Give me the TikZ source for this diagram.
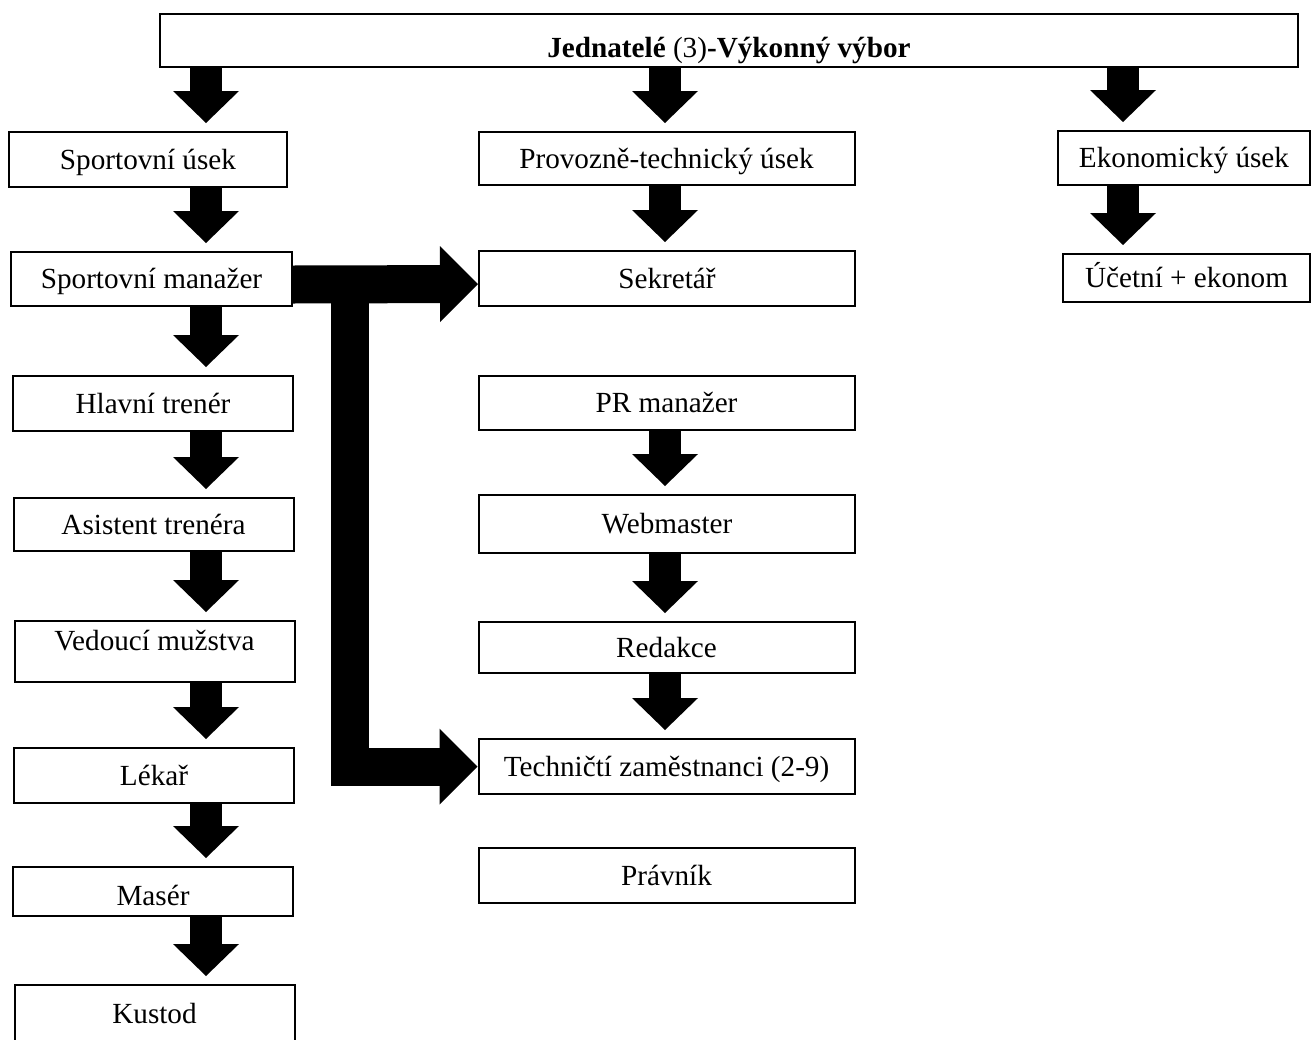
\documentclass[tikz,border=0pt]{standalone}
\usepackage{fontspec}
\setmainfont{Liberation Serif}
\usepackage{tikz}
\usetikzlibrary{positioning, arrows.meta}

\tikzset{
  unit/.style={draw, line width=1pt, inner sep=0pt, font=\fontsize{14.6}{17}\selectfont,
    text height=9.6pt, text depth=0pt, minimum height=27.5pt},
  leftunit/.style={unit, minimum width=140pt},
  midunit/.style={unit, minimum width=188pt},
  downarrow/.style={line width=16pt, -{Triangle[width=33pt,length=16pt,line width=0pt]}, shorten >=4pt},
  sidearrow/.style={line width=19pt, -{Triangle[width=38pt,length=19pt,line width=0pt]}}
}

\begin{document}
\begin{tikzpicture}[x=0.5pt,y=-0.5pt]
\useasboundingbox (0,0) rectangle (1312,1039);

% top
\node[unit, minimum width=569pt, minimum height=26.5pt, text height=16.6pt] at (729,40.5) (top)
  {\textbf{Jednatelé} (3)\textbf{-Výkonný výbor}};

% left column
\node[leftunit, minimum width=139pt] at (148,159.5) (sportUsek) {Sportovní úsek};
\node[leftunit, minimum width=140.5pt, minimum height=27pt] at (151.5,279) (sportMan) {Sportovní manažer};
\node[leftunit] at (153,403.5) (hlavni) {Hlavní trenér};
\node[leftunit, minimum height=26.5pt] at (153.5,524.5) (asist) {Asistent trenéra};
\node[leftunit, minimum height=30.5pt, text depth=11pt] at (154.5,651.5) (vedouci) {Vedoucí mužstva};
\node[leftunit] at (154,775.5) (lekar) {Lékař};
\node[leftunit, minimum height=24.5pt, text height=14.1pt] at (153,891.5) (maser) {Masér};
\node[leftunit, minimum height=28.5pt] at (154.5,1013.5) (kustod) {Kustod};

% middle column
\node[midunit, minimum height=26.5pt] at (666.5,158.5) (provozne) {Provozně-technický úsek};
\node[midunit] at (667,278.5) (sekretar) {Sekretář};
\node[midunit, minimum height=27pt] at (666.5,403) (pr) {PR manažer};
\node[midunit, minimum height=29pt] at (667,524) (webmaster) {Webmaster};
\node[midunit, minimum height=25.5pt] at (666.5,647.5) (redakce) {Redakce};
\node[midunit] at (666.5,766.5) (technicti) {Techničtí zaměstnanci (2-9)};
\node[midunit] at (666.5,875.5) (pravnik) {Právník};

% right column
\node[unit, minimum width=126pt, minimum height=27pt] at (1184,158) (ekonom) {Ekonomický úsek};
\node[unit, minimum width=123.5pt, minimum height=24pt] at (1186.5,278) (ucetni) {Účetní + ekonom};

% arrow columns
\coordinate (lx) at (206,0);
\coordinate (mx) at (665,0);
\coordinate (rx) at (1123,0);

\draw[downarrow] (top.south -| lx) -- (sportUsek.north -| lx);
\draw[downarrow] (sportUsek.south -| lx) -- (sportMan.north -| lx);
\draw[downarrow] (sportMan.south -| lx) -- (hlavni.north -| lx);
\draw[downarrow] (hlavni.south -| lx) -- (asist.north -| lx);
\draw[downarrow] (asist.south -| lx) -- (vedouci.north -| lx);
\draw[downarrow] (vedouci.south -| lx) -- (lekar.north -| lx);
\draw[downarrow] (lekar.south -| lx) -- (maser.north -| lx);
\draw[downarrow] (maser.south -| lx) -- (kustod.north -| lx);

\draw[downarrow] (top.south -| mx) -- (provozne.north -| mx);
\draw[downarrow] (provozne.south -| mx) -- (sekretar.north -| mx);
\draw[downarrow] (pr.south -| mx) -- (webmaster.north -| mx);
\draw[downarrow] (webmaster.south -| mx) -- (redakce.north -| mx);
\draw[downarrow] (redakce.south -| mx) -- (technicti.north -| mx);

\draw[downarrow] (top.south -| rx) -- (ekonom.north -| rx);
\draw[downarrow] (ekonom.south -| rx) -- (ucetni.north -| rx);

% manager branch
\draw[sidearrow] ([yshift=-2.75pt]sportMan.east) -- ([yshift=-2.75pt]sekretar.west);
\coordinate (branch) at (349.5,284.5);
\draw[sidearrow] (branch) |- (technicti.west);
\end{tikzpicture}
\end{document}
